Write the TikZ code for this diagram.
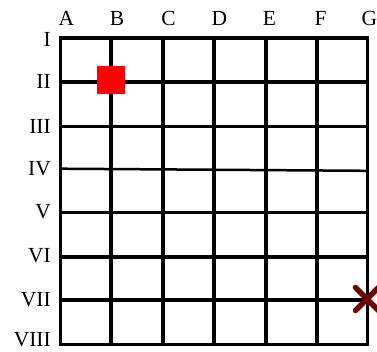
\documentclass[tikz,border=0pt]{standalone}
\usepackage{fontspec}
\setmainfont{Liberation Serif}
\definecolor{crossred}{RGB}{110,0,0}
\begin{document}
\begin{tikzpicture}[x=1pt,y=-1pt,
  gridline/.style={line width=3.2pt},
  thinline/.style={line width=2.5pt},
  lab/.style={font=\fontsize{21.5}{21.5}\selectfont, inner sep=0pt},
  collabel/.style={lab, anchor=base},
  rowlabel/.style={lab, anchor=east},
  marker/.style={fill=red, minimum size=28pt, inner sep=0pt},
  crossline/.style={draw=crossred, line width=5.5pt, line cap=round}]
\useasboundingbox (0,0) rectangle (377,351);
% column coordinates
\coordinate (TA) at (60.5,38);   \coordinate (BA) at (60.5,344.5);
\coordinate (TB) at (111,38);    \coordinate (BB) at (111,344.5);
\coordinate (TC) at (163,38);    \coordinate (BC) at (163,344.5);
\coordinate (TD) at (214,38);    \coordinate (BD) at (214,344.5);
\coordinate (TE) at (266,38);    \coordinate (BE) at (266,344.5);
\coordinate (TF) at (317,38);    \coordinate (BF) at (317,344.5);
\coordinate (TG) at (367.5,38);  \coordinate (BG) at (367.5,344.5);
% row coordinates
\coordinate (L1) at (60.5,38);     \coordinate (R1) at (367.5,38);
\coordinate (L2) at (60.5,82);     \coordinate (R2) at (367.5,82);
\coordinate (L3) at (60.5,126.5);  \coordinate (R3) at (367.5,126.5);
\coordinate (L4) at (60.5,168.7);  \coordinate (R4) at (367.5,170.8);
\coordinate (L5) at (60.5,212.5);  \coordinate (R5) at (367.5,212.5);
\coordinate (L6) at (60.5,257);    \coordinate (R6) at (367.5,257);
\coordinate (L7) at (60.5,300);    \coordinate (R7) at (367.5,300);
\coordinate (L8) at (60.5,344.5);  \coordinate (R8) at (367.5,344.5);
% grid
\draw[gridline] (TA) rectangle (BG);
\foreach \c in {B,C,D,E,F}{\draw[gridline] (T\c) -- (B\c);}
\foreach \r in {2,3,5,6,7}{\draw[gridline] (L\r) -- (R\r);}
\draw[thinline] (L4) -- (R4);
% column labels
\node[collabel] (cA) at (66.5,25) {A};
\node[collabel] (cB) at (117,25) {B};
\node[collabel] (cC) at (168.5,25) {C};
\node[collabel] (cD) at (219.5,25) {D};
\node[collabel] (cE) at (269.5,25) {E};
\node[collabel] (cF) at (320.5,25) {F};
\node[collabel] (cG) at (369.5,25) {G};
% row labels
\node[rowlabel] (r1) at (51,39) {I};
\node[rowlabel] (r2) at (51,81.5) {II};
\node[rowlabel] (r3) at (51,126) {III};
\node[rowlabel] (r4) at (51,168.5) {IV};
\node[rowlabel] (r5) at (51,212) {V};
\node[rowlabel] (r6) at (51,255.5) {VI};
\node[rowlabel] (r7) at (51,299.5) {VII};
\node[rowlabel] (r8) at (51,339.5) {VIII};
% markers
\node[marker] (sq) at (110.7,80.2) {};
\coordinate (X) at (367,299);
\coordinate (Xa) at (355.5,287.5); \coordinate (Xb) at (378.5,310.5);
\coordinate (Xc) at (355.5,310.5); \coordinate (Xd) at (378.5,287.5);
\draw[crossline] (Xa) -- (Xb);
\draw[crossline] (Xc) -- (Xd);
\end{tikzpicture}
\end{document}
